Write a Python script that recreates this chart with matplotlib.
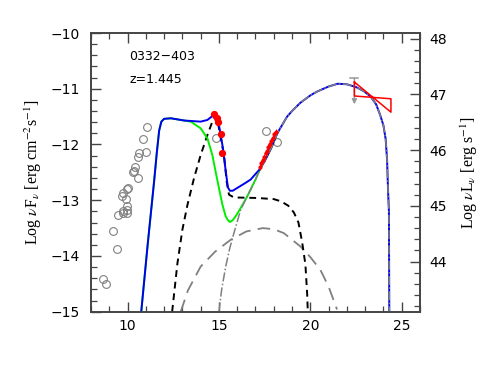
import matplotlib
matplotlib.use("Agg")
import matplotlib.pyplot as plt
from matplotlib.ticker import MultipleLocator

plt.rcParams['mathtext.fontset'] = 'stix'

# ---------------- data ----------------
radio_x = [8.64, 8.84, 9.19, 9.40, 9.46, 9.69, 9.73, 9.73, 9.73, 9.91, 9.97, 9.97,
           9.97, 9.97, 10.0, 10.28, 10.33, 10.40, 10.55, 10.58, 10.64, 10.82, 11.0, 11.04]
radio_y = [-14.41, -14.50, -13.56, -13.88, -13.26, -12.92, -12.87, -13.19, -13.23, -12.97, -12.80,
           -13.11, -13.18, -13.23, -12.78, -12.50, -12.47, -12.40, -12.60, -12.23, -12.16, -11.90,
           -12.14, -11.68]
other_x = [14.82, 17.55, 18.17]
other_y = [-11.89, -11.76, -11.96]

opt_x = [14.75, 14.88, 14.96, 15.10, 15.19]
opt_y = [-11.46, -11.53, -11.59, -11.81, -12.15]

xray_x = [17.24, 17.32, 17.40, 17.47, 17.55, 17.62, 17.70, 17.78, 17.86, 17.95, 18.03, 18.10]
xray_y = [-12.40, -12.33, -12.27, -12.22, -12.16, -12.11, -12.05, -12.00, -11.94, -11.88, -11.82, -11.77]

ul_x = 22.41
ul_top = -10.81
ul_tip = -11.28

bow_x = [22.41, 24.41, 24.41, 22.41, 22.41]
bow_y = [-10.88, -11.42, -11.18, -11.13, -10.88]

total_x = [10.75, 11.10, 11.46, 11.60, 11.73, 11.85, 12.00, 12.37, 13.10, 14.00, 14.37, 14.60,
           14.75, 14.88, 15.00, 15.19, 15.37, 15.49, 15.60, 15.75, 16.00, 16.40, 16.73, 17.19,
           17.50, 17.85, 18.19, 18.73, 19.00, 19.46, 20.00, 20.37, 21.00, 21.50, 22.00, 22.50,
           22.91, 23.30, 23.60, 23.82, 24.00, 24.12, 24.20, 24.25, 24.30, 24.32]
total_y = [-15.0, -13.80, -12.64, -12.15, -11.75, -11.59, -11.54, -11.53, -11.57, -11.59, -11.56, -11.50,
           -11.46, -11.52, -11.65, -12.01, -12.47, -12.77, -12.83, -12.83, -12.78, -12.70, -12.63, -12.46,
           -12.30, -12.07, -11.80, -11.50, -11.40, -11.25, -11.12, -11.05, -10.96, -10.91, -10.92, -10.97,
           -11.04, -11.14, -11.28, -11.47, -11.66, -11.90, -12.28, -12.81, -13.20, -15.0]

sync_x = [10.75, 11.10, 11.46, 11.60, 11.73, 11.85, 12.00, 12.37, 13.10, 13.46, 14.00, 14.37,
          14.64, 14.82, 15.00, 15.19, 15.37, 15.50, 15.60, 15.75, 15.91, 16.19, 16.55, 17.00,
          17.28, 17.50, 17.85, 18.19]
sync_y = [-15.0, -13.80, -12.64, -12.15, -11.75, -11.59, -11.54, -11.53, -11.57, -11.59, -11.71, -11.89,
          -12.19, -12.49, -12.78, -13.08, -13.29, -13.36, -13.39, -13.36, -13.29, -13.14, -12.93, -12.63,
          -12.42, -12.30, -12.07, -11.80]

disk_x = [12.44, 12.73, 13.00, 13.28, 13.64, 14.00, 14.37, 14.64, 14.78, 14.95, 15.10, 15.28,
          15.42, 15.55, 15.82, 17.10, 18.00, 18.40, 18.80, 19.10, 19.35, 19.55, 19.73, 19.83, 19.86]
disk_y = [-15.0, -14.13, -13.53, -13.08, -12.60, -12.19, -11.83, -11.59, -11.48, -11.62, -11.88, -12.19,
          -12.66, -12.90, -12.95, -12.96, -12.98, -13.02, -13.10, -13.22, -13.40, -13.75, -14.15, -14.70,
          -15.0]

ssc_x = [12.91, 13.30, 14.00, 14.80, 15.64, 16.50, 17.40, 18.00, 18.55, 19.46, 20.00, 20.55, 21.00, 21.46]
ssc_y = [-15.0, -14.62, -14.19, -13.92, -13.71, -13.56, -13.50, -13.52, -13.59, -13.83, -14.02, -14.25,
         -14.55, -14.96]

ec_x = [15.00, 15.15, 15.37, 15.60, 15.82, 16.19, 16.55, 17.00, 17.28, 17.50, 17.85, 18.19, 18.73,
        19.00, 19.46, 20.00, 20.37, 21.00, 21.50, 22.00, 22.50, 22.91, 23.30, 23.60, 23.82, 24.00,
        24.12, 24.20, 24.25, 24.30, 24.32]
ec_y = [-15.0, -14.60, -14.19, -13.85, -13.59, -13.17, -12.93, -12.63, -12.42, -12.30, -12.07, -11.80,
        -11.50, -11.40, -11.25, -11.12, -11.05, -10.96, -10.91, -10.92, -10.97, -11.04, -11.14, -11.28,
        -11.47, -11.66, -11.90, -12.28, -12.81, -13.20, -15.0]

name_text = "0332\u2212403"
z_text = "z=1.445"
lum_offset = 58.1  # log(4 pi d_L^2)

# ---------------- figure ----------------
fig = plt.figure(figsize=(4.91, 3.82), dpi=100)
ax = fig.add_axes([0.1853, 0.184, 0.6701, 0.7296])

grey = '#808080'
ax.plot(radio_x, radio_y, 'o', ls='none', ms=5.6, mfc='none', mec=grey, mew=0.8, zorder=3)
ax.plot(other_x, other_y, 'o', ls='none', ms=5.6, mfc='none', mec=grey, mew=0.8, zorder=3)

ax.plot(ssc_x, ssc_y, color=grey, lw=1.3, dashes=(7, 4), zorder=2)
ax.plot(disk_x, disk_y, color='black', lw=1.4, dashes=(3.5, 2.5), zorder=4)
ax.plot(sync_x, sync_y, color='#00ee00', lw=1.4, zorder=4)
ax.plot(total_x, total_y, color='#0000ee', lw=1.4, zorder=5)
ax.plot(ec_x, ec_y, color=grey, lw=1.1, dashes=(6, 1.5, 1, 1.5), zorder=6)

ax.errorbar(xray_x, xray_y, xerr=0.07, yerr=0.05, fmt='o', ms=2.0, color='red',
            elinewidth=0.8, capsize=0, zorder=7)
ax.plot(opt_x, opt_y, 'o', ls='none', ms=4.2, color='red', zorder=7)

# upper limit
ax.plot([ul_x - 0.22, ul_x + 0.22], [ul_top, ul_top], color='#999999', lw=1.1, zorder=6)
ax.annotate('', xy=(ul_x, ul_tip), xytext=(ul_x, ul_top),
            arrowprops=dict(arrowstyle='-|>', color='#999999', lw=1.1,
                            mutation_scale=7, shrinkA=0, shrinkB=0), zorder=6)
ax.plot(bow_x, bow_y, color='red', lw=1.1, zorder=7)

ax.text(10.08, -10.43, name_text, fontsize=9, family='DejaVu Sans', ha='left', va='center')
ax.text(10.08, -10.84, z_text, fontsize=9, family='DejaVu Sans', ha='left', va='center')

ax.set_xlim(8, 26)
ax.set_ylim(-15, -10)
ax.xaxis.set_major_locator(MultipleLocator(5))
ax.xaxis.set_minor_locator(MultipleLocator(1))
ax.yaxis.set_major_locator(MultipleLocator(1))
ax.yaxis.set_minor_locator(MultipleLocator(0.2))
ax.tick_params(which='both', direction='in', top=True, right=False, colors='#444444',
               labelcolor='black', labelsize=10)
ax.tick_params(which='major', length=7, width=1.0)
ax.tick_params(which='minor', length=4, width=0.9)
ax.tick_params(axis='y', pad=8)
ax.tick_params(axis='x', pad=5)
for s in ax.spines.values():
    s.set_color('#444444')
    s.set_linewidth(1.2)

ax.set_ylabel(r'Log $\nu$F$_\nu$ [erg cm$^{-2}$s$^{-1}$]', family='Liberation Serif',
              fontsize=11.4, labelpad=5)

ax2 = ax.twinx()
ax2.set_ylim(-15 + lum_offset, -10 + lum_offset)
ax2.yaxis.set_major_locator(MultipleLocator(1))
ax2.yaxis.set_minor_locator(MultipleLocator(0.2))
ax2.tick_params(which='both', direction='in', colors='#444444', labelcolor='black',
                labelsize=10, pad=7)
ax2.tick_params(which='major', length=7, width=1.0)
ax2.tick_params(which='minor', length=4, width=0.9)
for s in ax2.spines.values():
    s.set_color('#444444')
    s.set_linewidth(1.2)
ax2.set_ylabel(r'Log $\nu$L$_\nu$ [erg s$^{-1}$]', family='Liberation Serif', fontsize=11.4,
               labelpad=8)

fig.savefig('out.png', dpi=100)
